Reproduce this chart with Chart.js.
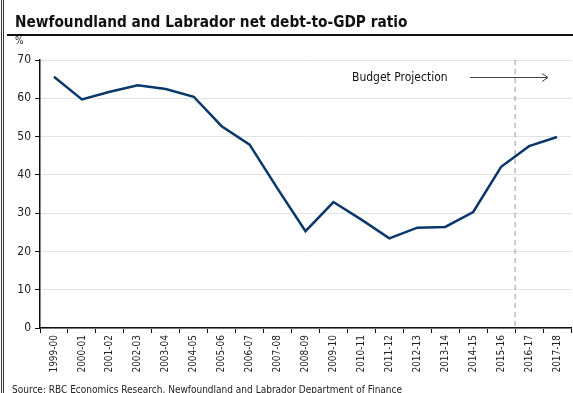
<!DOCTYPE html>
<html>
<head>
<meta charset="utf-8">
<script src="https://cdn.jsdelivr.net/npm/chart.js@4"></script>
<style>
  html, body { margin: 0; padding: 0; background: #fff; }
  #wrap { position: relative; width: 573px; height: 393px; overflow: hidden; }
  #frame1, #frame2 { position: absolute; top: 0; bottom: 0; width: 1px; background: #333; }
  #frame1 { left: 1px; }
  #frame2 { left: 3px; }
  #title { position: absolute; left: 15px; top: 12px; font: bold 16px "DejaVu Sans", sans-serif; color: #111; white-space: nowrap; transform-origin: 0 0; }
  #rule { position: absolute; left: 7px; right: 0; top: 34px; height: 2px; background: #111; }
  #unit { position: absolute; left: 15px; top: 35px; font: 10px "DejaVu Sans Condensed", sans-serif; color: #222; }
  #source { position: absolute; left: 12px; top: 384px; font: 10px "DejaVu Sans Condensed", sans-serif; color: #222; white-space: nowrap; transform-origin: 0 0; }
  #chart { position: absolute; left: 0; top: 0; }
</style>
</head>
<body>
<div id="wrap">
  <canvas id="chart" width="573" height="393"></canvas>
  <div id="frame1"></div><div id="frame2"></div>
  <div id="title">Newfoundland and Labrador net debt-to-GDP ratio</div>
  <div id="rule"></div>
  <div id="unit">%</div>
  <div id="source">Source: RBC Economics Research, Newfoundland and Labrador Department of Finance</div>
</div>
<script>
// fiscal years
const years = ['1999-00', '2000-01', '2001-02', '2002-03', '2003-04', '2004-05', '2005-06',
  '2006-07', '2007-08', '2008-09', '2009-10', '2010-11', '2011-12', '2012-13', '2013-14',
  '2014-15', '2015-16', '2016-17', '2017-18'];
// net debt as % of GDP
const debtRatio = [65.6, 59.7, 61.7, 63.4, 62.4, 60.4, 52.7, 47.9, 36.4, 25.3, 32.9,
  28.3, 23.4, 26.2, 26.4, 30.3, 42.1, 47.5, 49.9];
const yTicks = [0, 10, 20, 30, 40, 50, 60, 70];
const projectionStart = '2016-17';

// squeeze text to the widths seen in the picture
function fitWidth(id, w) {
  const el = document.getElementById(id);
  el.style.transform = 'scaleX(' + (w / el.offsetWidth) + ')';
}
fitWidth('title', 392);
fitWidth('source', 390);

const projectionMarks = {
  id: 'projectionMarks',
  afterDatasetsDraw(chart) {
    const ctx = chart.ctx;
    const x = chart.scales.x;
    const area = chart.chartArea;
    const i = years.indexOf(projectionStart);
    const lx = (x.getPixelForValue(i - 1) + x.getPixelForValue(i)) / 2;
    ctx.save();
    ctx.strokeStyle = '#999';
    ctx.lineWidth = 1;
    ctx.setLineDash([5, 4]);
    ctx.beginPath();
    ctx.moveTo(lx, area.top);
    ctx.lineTo(lx, area.bottom);
    ctx.stroke();
    ctx.setLineDash([]);

    ctx.fillStyle = '#111';
    ctx.font = '12px "DejaVu Sans Condensed", sans-serif';
    ctx.textBaseline = 'middle';
    ctx.fillText('Budget Projection', 352, 78);

    ctx.strokeStyle = '#444';
    ctx.beginPath();
    ctx.moveTo(470, 77.5);
    ctx.lineTo(548, 77.5);
    ctx.moveTo(542, 73.5);
    ctx.lineTo(548, 77.5);
    ctx.lineTo(542, 81.5);
    ctx.stroke();
    ctx.restore();
  }
};

new Chart(document.getElementById('chart'), {
  type: 'line',
  data: {
    labels: years,
    datasets: [{
      data: debtRatio,
      borderColor: '#0b386b',
      borderWidth: 2.5,
      pointRadius: 0,
      tension: 0,
      fill: false
    }]
  },
  options: {
    responsive: false,
    animation: false,
    layout: { padding: { top: 60, right: 2, left: 0, bottom: 0 } },
    plugins: { legend: { display: false }, tooltip: { enabled: false } },
    scales: {
      x: {
        offset: true,
        grid: { display: true, drawOnChartArea: false, offset: true, tickLength: 5, tickColor: '#111' },
        border: { color: '#111', width: 1.5 },
        ticks: {
          autoSkip: false, minRotation: 90, maxRotation: 90, padding: 2,
          color: '#222', font: { family: '"DejaVu Sans Condensed", sans-serif', size: 10 }
        },
        afterFit: s => { s.height = 65; }
      },
      y: {
        min: 0, max: 70,
        afterBuildTicks: s => { s.ticks = yTicks.map(v => ({ value: v })); },
        grid: { color: '#e2e2e2', lineWidth: 1, tickLength: 5, tickColor: '#111' },
        border: { color: '#111', width: 1.5 },
        ticks: {
          padding: 4, color: '#222',
          font: { family: '"DejaVu Sans Condensed", sans-serif', size: 12 }
        },
        afterFit: s => { s.width = 40; }
      }
    }
  },
  plugins: [projectionMarks]
});
</script>
</body>
</html>
